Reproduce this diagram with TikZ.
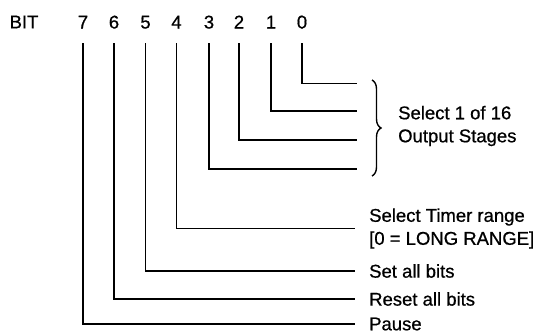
\documentclass[tikz,border=0pt]{standalone}
\usepackage{fontspec}
\setmainfont{Liberation Sans}
\newfontfamily\heavysans[FakeBold=0.7]{Liberation Sans}
\usetikzlibrary{decorations.pathreplacing}
\begin{document}
\begin{tikzpicture}[x=1bp,y=-1bp,
  lbl/.style={font=\heavysans\fontsize{18.5bp}{23bp}\selectfont, inner sep=0pt},
  digit/.style={lbl, text height=13bp, text depth=0bp},
  desc/.style={lbl, anchor=west, inner xsep=14bp, align=left},
  wire/.style={line width=1.7bp, shorten <=14.5bp},
  bracestyle/.style={line width=1.4bp, decorate, decoration={brace, amplitude=9bp}}]
\useasboundingbox (0,0) rectangle (543,334);
% header
\node[lbl] (bit) at (24,22) {BIT};
\node[digit] (d7) at (83,22) {7};
\node[digit] (d6) at (114,22) {6};
\node[digit] (d5) at (145.5,22) {5};
\node[digit] (d4) at (176.5,22) {4};
\node[digit] (d3) at (209,22) {3};
\node[digit] (d2) at (239,22) {2};
\node[digit] (d1) at (271,22) {1};
\node[digit] (d0) at (302,22) {0};
% free ends at the brace
\coordinate (e0) at (357,83.5);
\coordinate (e1) at (357,111);
\coordinate (e2) at (357,140);
\coordinate (e3) at (357,169);
% descriptions
\node[desc] (timer) at (355,228.5) {Select Timer range\\{[0 = LONG RANGE]}};
\node[desc] (set) at (355,271) {Set all bits};
\node[desc] (reset) at (355,299) {Reset all bits};
\node[desc] (pause) at (355,324) {Pause};
\node[desc, inner xsep=0pt] (sel) at (398,126) {Select 1 of 16\\Output Stages};
% brace
\coordinate (bt) at (372,80);
\coordinate (bb) at (372,176);
\draw[bracestyle] (bt) -- (bb);
% connectors
\draw[wire] (d0.south) |- (e0);
\draw[wire] (d1.south) |- (e1);
\draw[wire] (d2.south) |- (e2);
\draw[wire] (d3.south) |- (e3);
\draw[wire] (d4.south) |- (timer.west);
\draw[wire] (d5.south) |- (set.west);
\draw[wire] (d6.south) |- (reset.west);
\draw[wire] (d7.south) |- (pause.west);
\end{tikzpicture}
\end{document}
